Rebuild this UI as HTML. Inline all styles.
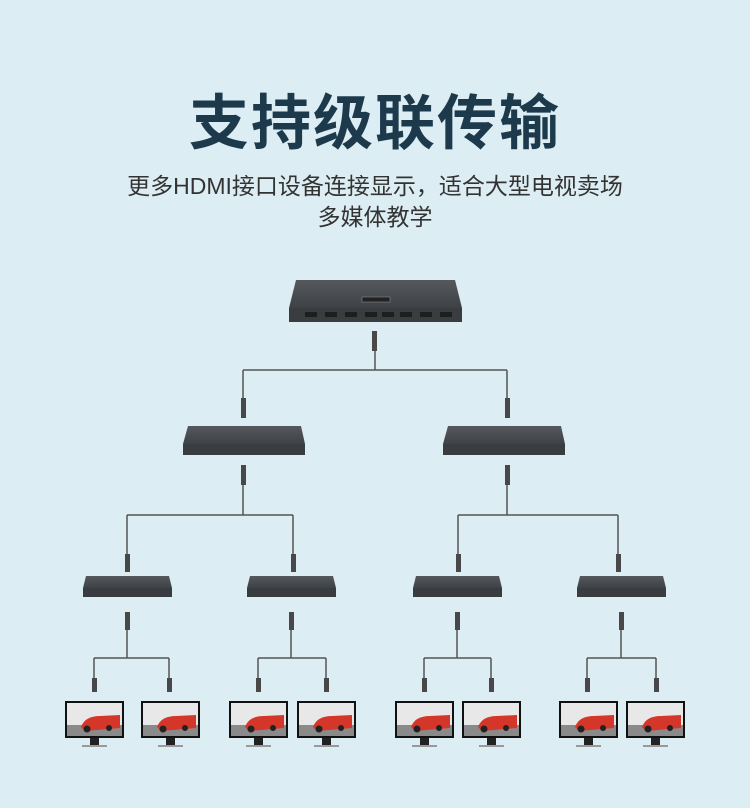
<!DOCTYPE html>
<html><head><meta charset="utf-8"><style>
html,body{margin:0;padding:0;background:#dcedf3;}
body{width:750px;height:808px;position:relative;overflow:hidden;font-family:"Liberation Sans","Noto Sans CJK SC",sans-serif;}
.t{position:absolute;left:0;width:750px;text-align:center;}
</style></head><body>
<div class="t" style="top:84px;font-size:60px;font-weight:bold;color:#1d3a4d;letter-spacing:2px;line-height:80px;">支持级联传输</div>
<div class="t" style="top:171px;font-size:23px;color:#333;line-height:31px;">更多HDMI接口设备连接显示，适合大型电视卖场<br>多媒体教学</div>
<svg width="750" height="808" style="position:absolute;left:0;top:0">
<defs>
<linearGradient id="top" x1="0" y1="0" x2="0" y2="1"><stop offset="0" stop-color="#55595d"/><stop offset="1" stop-color="#3e4246"/></linearGradient>
<g id="mon">
<rect x="0" y="0" width="59" height="37" fill="#111"/>
<rect x="2" y="2" width="55" height="33" fill="#e8e8e8"/>
<rect x="2" y="24" width="55" height="11" fill="#8a8a8a"/>
<path d="M16 26 Q20 15 35 15 L55 14 L55 27 L20 30 Z" fill="#d4362a"/>
<circle cx="22" cy="28" r="3.5" fill="#222"/><circle cx="44" cy="27" r="3" fill="#222"/>
<rect x="25" y="37" width="9" height="8" fill="#222"/>
<rect x="17" y="44" width="25" height="2" fill="#999"/>
</g>
</defs>
<g stroke="#555" stroke-width="1.5" fill="none">
<path d="M375 350V370M243 370H507M243 370V400M507 370V400"/>
<path d="M243 480V515M507 480V515M127 515H293M458 515H618M127 515V558M293 515V558M458 515V558M618 515V558"/>
<path d="M127 628V658M291 628V658M457 628V658M621 628V658M94 658H169M258 658H326M424 658H491M587 658H656M94 658V680M169 658V680M258 658V680M326 658V680M424 658V680M491 658V680M587 658V680M656 658V680"/>
</g>
<g fill="#484848">
<rect x="372" y="331" width="5" height="20"/>
<rect x="241" y="398" width="5" height="20"/><rect x="505" y="398" width="5" height="20"/>
<rect x="241" y="465" width="5" height="20"/><rect x="505" y="465" width="5" height="20"/>
<rect x="125" y="554" width="5" height="18"/><rect x="291" y="554" width="5" height="18"/><rect x="456" y="554" width="5" height="18"/><rect x="616" y="554" width="5" height="18"/>
<rect x="125" y="612" width="5" height="18"/><rect x="289" y="612" width="5" height="18"/><rect x="455" y="612" width="5" height="18"/><rect x="619" y="612" width="5" height="18"/>
<rect x="92" y="678" width="5" height="14"/><rect x="167" y="678" width="5" height="14"/><rect x="256" y="678" width="5" height="14"/><rect x="324" y="678" width="5" height="14"/><rect x="422" y="678" width="5" height="14"/><rect x="489" y="678" width="5" height="14"/><rect x="585" y="678" width="5" height="14"/><rect x="654" y="678" width="5" height="14"/>
</g>
<path d="M296 280H455L462 308H289Z" fill="url(#top)"/>
<rect x="289" y="308" width="173" height="14" fill="#3a3d40"/>
<rect x="362" y="297" width="28" height="5" fill="#222" stroke="#888" stroke-width="0.6"/>
<path d="M188 426H301L305 444H183Z" fill="url(#top)"/><rect x="183" y="444" width="122" height="11" fill="#3a3d40"/>
<path d="M448 426H561L565 444H443Z" fill="url(#top)"/><rect x="443" y="444" width="122" height="11" fill="#3a3d40"/>
<g fill="url(#top)">
<path d="M86 576H169L172 588H83Z"/><path d="M250 576H333L336 588H247Z"/><path d="M416 576H499L502 588H413Z"/><path d="M580 576H663L666 588H577Z"/>
</g>
<g fill="#3a3d40">
<rect x="83" y="588" width="89" height="9"/><rect x="247" y="588" width="89" height="9"/><rect x="413" y="588" width="89" height="9"/><rect x="577" y="588" width="89" height="9"/>
</g>
<g fill="#1e1e1e">
<rect x="305" y="312" width="12" height="5"/><rect x="325" y="312" width="12" height="5"/><rect x="345" y="312" width="12" height="5"/><rect x="365" y="312" width="12" height="5"/><rect x="382" y="312" width="12" height="5"/><rect x="400" y="312" width="12" height="5"/><rect x="420" y="312" width="12" height="5"/><rect x="440" y="312" width="12" height="5"/>
</g>
<use href="#mon" x="65" y="701"/><use href="#mon" x="141" y="701"/><use href="#mon" x="229" y="701"/><use href="#mon" x="297" y="701"/>
<use href="#mon" x="395" y="701"/><use href="#mon" x="462" y="701"/><use href="#mon" x="559" y="701"/><use href="#mon" x="626" y="701"/>
</svg>
</body></html>
